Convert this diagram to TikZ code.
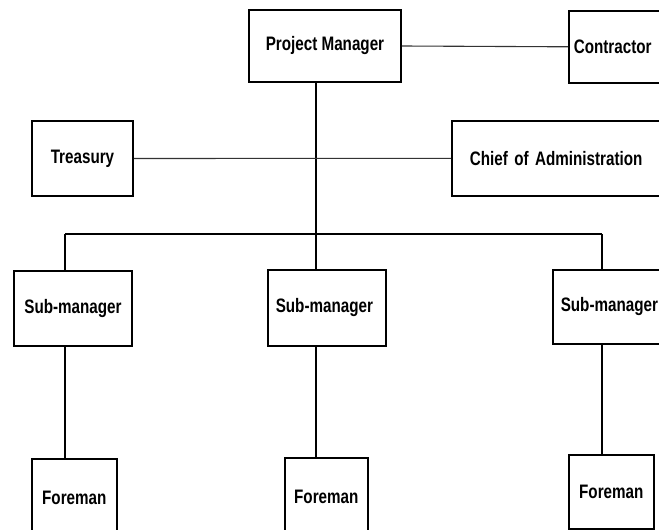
\documentclass[tikz,border=0pt]{standalone}
\usepackage{fontspec}
\newfontfamily\dfont{Liberation Sans}[FakeStretch=0.78]
\begin{document}
\begin{tikzpicture}[x=1pt,y=-1pt,
  box/.style={draw=black, line width=1.6pt, rectangle, inner sep=0pt,
    font=\dfont\bfseries\fontsize{19.5}{23}\selectfont},
  wire/.style={draw=black, line width=1.5pt},
  hwire/.style={draw=black!80, line width=1.1pt}]
\useasboundingbox (0,0) rectangle (659,530);
\clip (0,0) rectangle (659,530);
% boxes
\node[box, minimum width=152, minimum height=72] (pm) at (325,46) {Project Manager};
\node[box, minimum width=152, minimum height=72, anchor=north west, text width=142, inner xsep=5pt, align=left] (con) at (568,10) {Contractor};
\node[box, minimum width=101, minimum height=75] (tr) at (82.5,158.5) {Treasury};
\node[box, minimum width=249, minimum height=75, anchor=north west, text width=213, inner xsep=18pt, align=left] (ch) at (451,120) {Chief of Administration};
\node[box, minimum width=118, minimum height=75] (sma) at (73,308.5) {Sub-manager};
\node[box, minimum width=118, minimum height=76, anchor=north west, text width=102, inner xsep=8pt, align=left] (smb) at (267,269) {Sub-manager};
\node[box, minimum width=148, minimum height=74, anchor=north west, text width=132, inner xsep=7pt, align=left] (smc) at (552,269) {Sub-manager};
\node[box, minimum width=85, minimum height=78, anchor=north west] (fma) at (31,458) {Foreman};
\node[box, minimum width=83, minimum height=78, anchor=north west] (fmb) at (284,457) {Foreman};
\node[box, minimum width=85, minimum height=74, anchor=north west] (fmc) at (568,454) {Foreman};
% junction coordinates
\coordinate (bl) at (65,234);
\coordinate (bm) at (316,234);
\coordinate (br) at (602,234);
% connectors
\draw[hwire] (pm.east) -- (con.west);
\draw[wire] (pm.south -| bm) -- (smb.north -| bm);
\draw[hwire] (tr.east) -- (ch.west);
\draw[wire] (bl) -- (br);
\draw[wire] (bl) -- (sma.north -| bl);
\draw[wire] (br) -- (smc.north -| br);
\draw[wire] (sma.south -| bl) -- (fma.north -| bl);
\draw[wire] (smb.south -| bm) -- (fmb.north -| bm);
\draw[wire] (smc.south -| br) -- (fmc.north -| br);
\end{tikzpicture}
\end{document}
